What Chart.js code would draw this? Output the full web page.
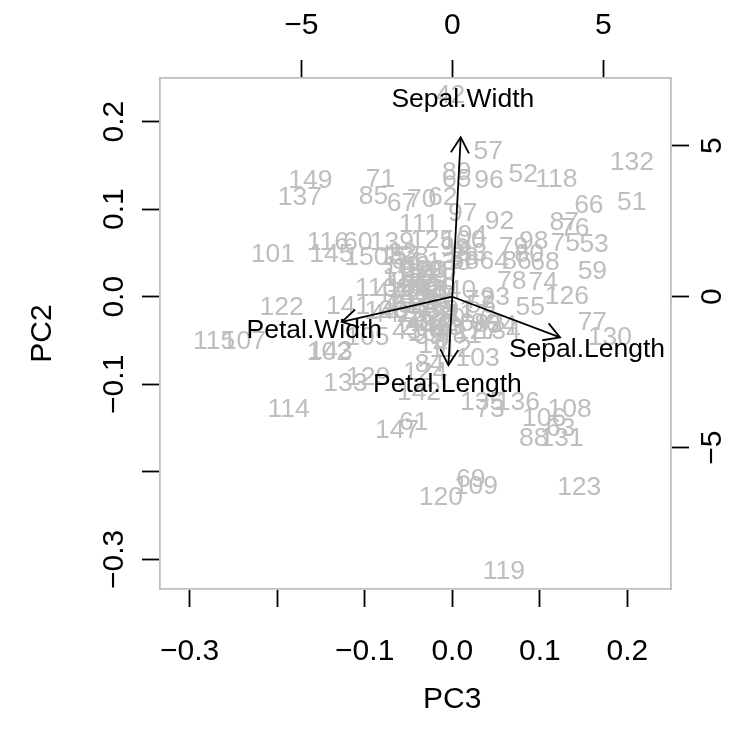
<!DOCTYPE html>
<html><head><meta charset="utf-8">
<script src="https://cdn.jsdelivr.net/npm/chart.js@4"></script>
<style>html,body{margin:0;padding:0;background:#fff}canvas{display:block}</style>
</head><body>
<canvas id="c" width="742" height="740"></canvas>
<script>
// observation labels (row numbers)
const obsLabels = [1,2,3,4,5,6,7,8,9,10,11,12,13,14,15,16,17,18,19,20,21,22,23,24,25,26,27,28,29,30,
31,32,33,34,35,36,37,38,39,40,41,42,43,44,45,46,47,48,49,50,51,52,53,54,55,56,57,58,59,60,
61,62,63,64,65,66,67,68,69,70,71,72,73,74,75,76,77,78,79,80,81,82,83,84,85,86,87,88,89,90,
91,92,93,94,95,96,97,98,99,100,101,102,103,104,105,106,107,108,109,110,111,112,113,114,115,116,117,118,119,120,
121,122,123,124,125,126,127,128,129,130,131,132,133,134,135,136,137,138,139,140,141,142,143,144,145,146,147,148,149,150];
// scores on PC3 (x)
const pc3Scores = [-0.027,-0.007,-0.037,-0.017,-0.042,-0.052,-0.057,-0.027,-0.012,-0.002,
-0.032,-0.037,-0.005,-0.022,-0.067,-0.062,-0.047,-0.032,-0.037,-0.047,
-0.017,-0.052,-0.067,-0.042,-0.047,0.008,-0.032,-0.022,-0.012,-0.022,
-0.007,-0.027,-0.057,-0.052,-0.012,-0.017,-0.007,0.013,-0.027,-0.037,
-0.042,-0.002,-0.052,-0.077,-0.062,-0.017,-0.072,-0.032,-0.042,-0.022,
0.205,0.081,0.162,0.057,0.089,0.033,0.041,0.014,0.160,-0.108,
-0.044,-0.011,0.124,0.048,0.005,0.156,-0.058,0.106,0.021,-0.035,
-0.082,0.031,0.043,0.104,0.129,0.140,0.160,0.068,0.070,0.088,
0.017,0.042,0.023,-0.026,-0.090,0.074,0.128,0.093,0.005,0.038,
0.008,0.054,0.049,0.023,-0.012,0.042,0.012,0.093,0.003,0.013,
-0.205,-0.141,0.029,-0.026,-0.097,0.105,-0.238,0.134,0.027,-0.087,
-0.038,-0.002,-0.056,-0.187,-0.272,-0.142,0.018,0.119,0.059,-0.013,
-0.050,-0.195,0.145,-0.031,-0.023,0.131,0.028,-0.052,-0.096,0.180,
0.125,0.205,-0.122,0.053,0.034,0.075,-0.174,-0.004,-0.069,0.002,
-0.119,-0.038,-0.139,-0.050,-0.138,-0.075,-0.063,-0.033,-0.162,-0.098];
// scores on PC2 (y)
const pc2Scores = [0.012,-0.028,-0.018,-0.038,0.017,0.032,-0.023,-0.003,-0.048,-0.023,
0.027,-0.008,-0.033,-0.053,0.047,0.037,0.022,0.007,0.032,0.012,
0.022,0.002,-0.013,-0.033,-0.018,-0.028,-0.023,0.017,0.012,-0.028,
-0.018,0.032,0.052,0.042,-0.013,-0.008,0.032,0.047,-0.043,-0.030,
0.002,0.232,-0.038,-0.018,-0.008,-0.033,0.007,-0.013,0.037,0.002,
0.110,0.142,0.062,-0.031,-0.010,-0.008,0.168,0.042,0.031,0.064,
-0.141,0.116,-0.148,0.042,0.136,0.106,0.109,0.041,-0.206,0.113,
0.136,-0.002,-0.126,0.018,0.063,0.080,-0.027,0.020,0.059,0.050,
-0.042,-0.030,0.052,-0.075,0.117,0.042,0.087,-0.160,0.144,-0.028,
-0.013,0.088,0.001,0.072,0.031,0.135,0.097,0.065,0.057,0.066,
0.050,-0.061,-0.068,-0.040,-0.044,-0.137,-0.049,-0.127,-0.214,0.012,
0.085,-0.058,0.023,-0.126,-0.049,0.064,-0.018,0.136,-0.312,-0.227,
0.016,-0.010,-0.216,-0.084,0.066,0.003,-0.038,0.048,-0.090,-0.044,
-0.160,0.155,-0.097,-0.038,-0.119,-0.119,0.116,0.041,0.064,0.009,
-0.009,-0.107,-0.060,0.010,0.051,-0.015,-0.150,0.010,0.135,0.047];
// variable loadings (label positions; arrows are drawn to 0.8 of them)
const varNames = ['Sepal.Length','Sepal.Width','Petal.Length','Petal.Width'];
const varPC3 = [4.46, 0.35, -0.16, -4.57];
const varPC2 = [-1.68, 6.60, -2.83, -1.04];
// axis ranges and ticks
const scoreRange = [-0.3338, 0.2498];
const loadRange = [-9.677, 7.242];
const scoreTicks = [-0.3, -0.2, -0.1, 0.0, 0.1, 0.2];
const loadTicks = [-5, 0, 5];
const hiddenScoreTicks = [-0.2];
const axisTitleX = 'PC3';
const axisTitleY = 'PC2';

const GREY = '#BEBEBE';
const FONT = '"Liberation Sans", Arial, sans-serif';
const LABEL_SIZE = 26.5, TICK_SIZE = 30;
const fmtScore = v => hiddenScoreTicks.some(h => Math.abs(h - v) < 1e-9) ? '' :
  (v < 0 ? '\u2212' : '') + Math.abs(v).toFixed(1);
const fmtLoad = v => (v < 0 ? '\u2212' : '') + Math.abs(v);

function axisCommon(pos, range, ticks, fmt, size, pad, showLabels) {
  return {
    type: 'linear', position: pos, min: range[0], max: range[1],
    afterBuildTicks: s => { s.ticks = ticks.map(v => ({value: v})); },
    afterFit: s => {
      if (pos === 'bottom' || pos === 'top') s.height = size; else s.width = size;
      s.paddingLeft = 0; s.paddingRight = 0; s.paddingTop = 0; s.paddingBottom = 0;
    },
    grid: {display: true, drawOnChartArea: false, drawTicks: true, tickLength: 18,
           tickColor: '#000', tickWidth: 1.8, color: '#000'},
    border: {display: true, color: GREY, width: 1.8},
    ticks: {display: true, autoSkip: false, maxRotation: 0, minRotation: 0, padding: pad,
            color: showLabels ? '#000' : 'rgba(0,0,0,0)',
            font: {family: FONT, size: TICK_SIZE}, callback: v => fmt(v)}
  };
}

const points = pc3Scores.map((x, i) => ({x: x, y: pc2Scores[i]}));
const varPoints = varPC3.map((x, i) => ({x: x, y: varPC2[i]}));

function glyphText(ctx, txt, x, y, size) {
  // visual centre of the capitals sits at (x, y)
  ctx.fillText(txt, x, y + size * 0.358);
}

const biplotPlugin = {
  id: 'biplot',
  afterDatasetsDraw(chart) {
    const ctx = chart.ctx, ca = chart.chartArea;
    const sx = chart.scales.x, sy = chart.scales.y, sx2 = chart.scales.x2, sy2 = chart.scales.y2;
    ctx.save();
    ctx.beginPath(); ctx.rect(ca.left, ca.top, ca.right - ca.left, ca.bottom - ca.top); ctx.clip();
    ctx.font = LABEL_SIZE + 'px ' + FONT; ctx.textAlign = 'center'; ctx.textBaseline = 'alphabetic';
    ctx.fillStyle = GREY;
    chart.data.datasets[0].data.forEach((p, i) => {
      glyphText(ctx, String(obsLabels[i]), sx.getPixelForValue(p.x), sy.getPixelForValue(p.y), LABEL_SIZE);
    });
    ctx.fillStyle = '#000';
    chart.data.datasets[1].data.forEach((p, i) => {
      glyphText(ctx, varNames[i], sx2.getPixelForValue(p.x), sy2.getPixelForValue(p.y), LABEL_SIZE);
    });
    ctx.strokeStyle = '#000'; ctx.lineWidth = 1.8; ctx.lineCap = 'butt';
    const ox = sx2.getPixelForValue(0), oy = sy2.getPixelForValue(0);
    chart.data.datasets[1].data.forEach(p => {
      const tx = sx2.getPixelForValue(p.x * 0.8), ty = sy2.getPixelForValue(p.y * 0.8);
      const ang = Math.atan2(ty - oy, tx - ox), L = 18, a = Math.PI / 6;
      ctx.beginPath(); ctx.moveTo(ox, oy); ctx.lineTo(tx, ty); ctx.stroke();
      ctx.beginPath();
      ctx.moveTo(tx - L * Math.cos(ang - a), ty - L * Math.sin(ang - a));
      ctx.lineTo(tx, ty);
      ctx.lineTo(tx - L * Math.cos(ang + a), ty - L * Math.sin(ang + a));
      ctx.stroke();
    });
    ctx.restore();

    ctx.save();
    ctx.fillStyle = '#000'; ctx.textAlign = 'center'; ctx.textBaseline = 'alphabetic';
    const ts = TICK_SIZE; ctx.font = ts + 'px ' + FONT;
    const rot = (txt, cx, cy) => {
      ctx.save(); ctx.translate(cx + ts * 0.358, cy); ctx.rotate(-Math.PI / 2);
      ctx.fillText(txt, 0, 0); ctx.restore();
    };
    sy.ticks.forEach(t => { const s = fmtScore(t.value); if (s) rot(s, ca.left - 48, sy.getPixelForValue(t.value)); });
    sy2.ticks.forEach(t => rot(fmtLoad(t.value), ca.right + 39, sy2.getPixelForValue(t.value)));
    ctx.fillText(axisTitleX, sx.getPixelForValue(0), ca.bottom + 108 + ts * 0.358);
    rot(axisTitleY, 40, (ca.top + ca.bottom) / 2);
    ctx.restore();
  }
};

new Chart(document.getElementById('c'), {
  type: 'scatter',
  data: {datasets: [
    {data: points, xAxisID: 'x', yAxisID: 'y', pointRadius: 0, pointHoverRadius: 0},
    {data: varPoints, xAxisID: 'x2', yAxisID: 'y2', pointRadius: 0, pointHoverRadius: 0}
  ]},
  options: {
    responsive: false, animation: false, devicePixelRatio: 1,
    layout: {padding: 0},
    events: [],
    plugins: {legend: {display: false}, tooltip: {enabled: false}, title: {display: false}},
    scales: {
      x: axisCommon('bottom', scoreRange, scoreTicks, fmtScore, 151, 26.5, true),
      y: axisCommon('left', scoreRange, scoreTicks, fmtScore, 160, 10, false),
      x2: axisCommon('top', loadRange, loadTicks, fmtLoad, 78, 16, true),
      y2: axisCommon('right', loadRange, loadTicks, fmtLoad, 71, 10, false)
    }
  },
  plugins: [biplotPlugin]
});
</script>
</body></html>
